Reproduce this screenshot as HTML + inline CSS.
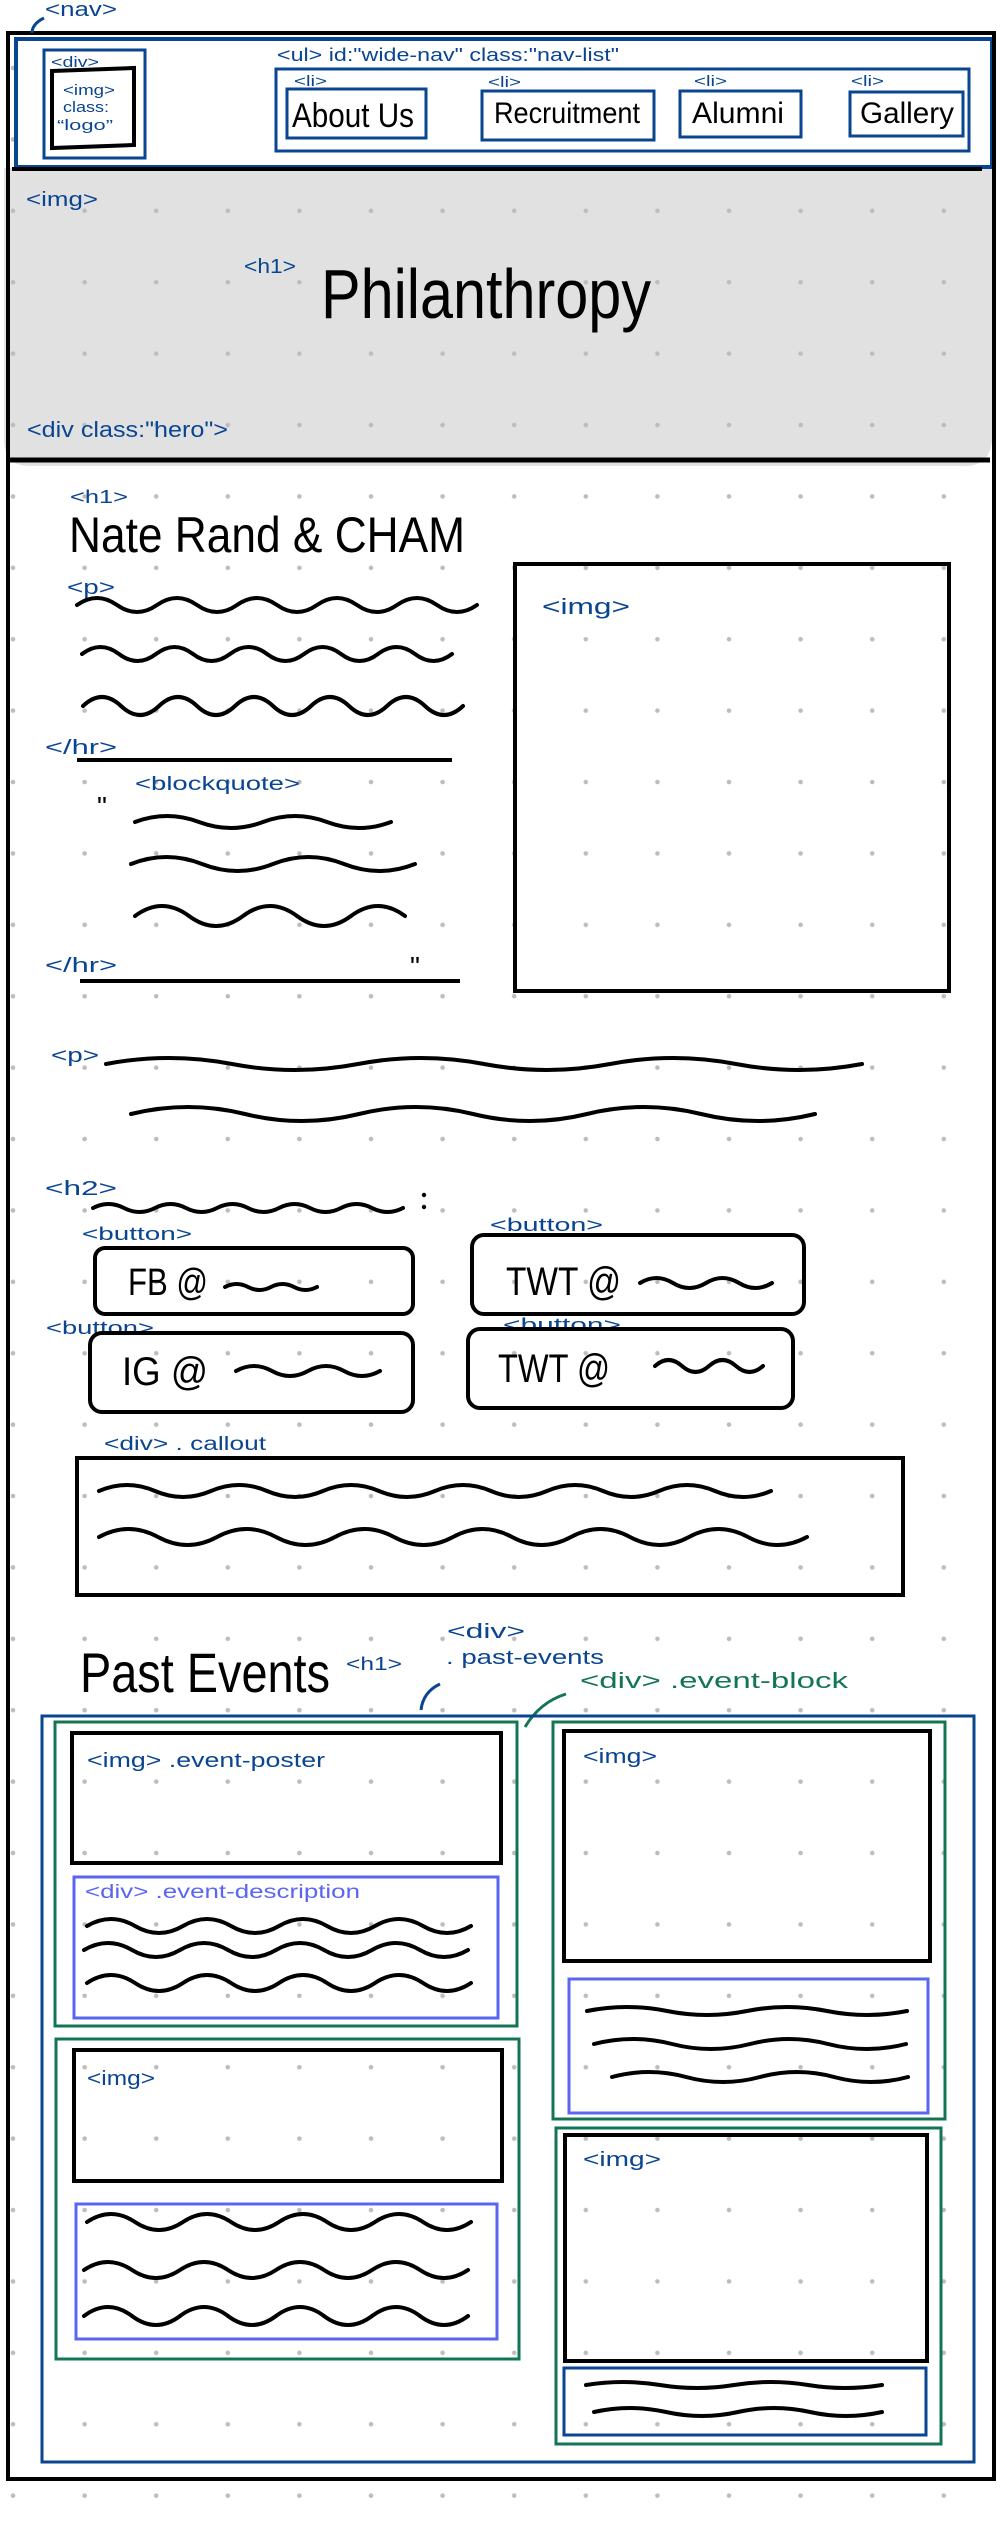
<!DOCTYPE html>
<html><head><meta charset="utf-8"><style>
html,body{margin:0;padding:0;background:#fff;}
svg{display:block;}
.b{fill:#0a4592;font-family:"Liberation Sans Narrow","Liberation Sans",sans-serif;}
.g{fill:#137556;font-family:"Liberation Sans Narrow","Liberation Sans",sans-serif;}
.pu{fill:#5a66f2;font-family:"Liberation Sans Narrow","Liberation Sans",sans-serif;}
.k{fill:#000;font-family:"Liberation Sans Narrow","Liberation Sans",sans-serif;}
.sq{fill:none;stroke:#000;stroke-width:4;stroke-linecap:round;stroke-linejoin:round;}
</style></head><body>
<svg width="1000" height="2542" viewBox="0 0 1000 2542" xmlns="http://www.w3.org/2000/svg">
<defs>
<pattern id="dots" x="13" y="68" width="71.6" height="71.4" patternUnits="userSpaceOnUse">
<circle cx="0.01" cy="0.01" r="2.3" fill="#bdbdbd"/>
<circle cx="71.6" cy="0.01" r="2.3" fill="#bdbdbd"/>
<circle cx="0.01" cy="71.4" r="2.3" fill="#bdbdbd"/>
<circle cx="71.6" cy="71.4" r="2.3" fill="#bdbdbd"/>
</pattern>
</defs>
<rect x="0" y="0" width="1000" height="2542" fill="#fff"/>
<!-- hero grey -->
<path d="M4 168 L992 168 L992 440 Q990 468 960 466 L30 466 Q4 466 4 440 Z" fill="#e1e1e1"/>
<rect x="0" y="0" width="1000" height="2542" fill="url(#dots)"/>
<!-- nav box white -->
<rect x="16" y="39" width="976" height="128" fill="#fff" stroke="#0a4592" stroke-width="4"/>
<!-- main frame -->
<rect x="8" y="33" width="986" height="2446" fill="none" stroke="#000" stroke-width="4"/>
<line x1="12" y1="169" x2="982" y2="169" stroke="#000" stroke-width="4"/>
<line x1="10" y1="460" x2="990" y2="460" stroke="#000" stroke-width="5"/>
<!-- nav label -->
<text class="b" x="45" y="16" font-size="20" textLength="72" lengthAdjust="spacingAndGlyphs">&lt;nav&gt;</text>
<path d="M32 33 Q32 24 44 18" fill="none" stroke="#0a4592" stroke-width="3"/>
<!-- logo -->
<rect x="44" y="50" width="101" height="108" fill="none" stroke="#0a4592" stroke-width="3"/>
<text class="b" x="51" y="67" font-size="15" textLength="48" lengthAdjust="spacingAndGlyphs">&lt;div&gt;</text>
<path d="M52 71 L134 68 L134 145 L52 148 Z" fill="none" stroke="#000" stroke-width="4"/>
<text class="b" x="63" y="95" font-size="15" textLength="52" lengthAdjust="spacingAndGlyphs">&lt;img&gt;</text>
<text class="b" x="63" y="112" font-size="15" textLength="46" lengthAdjust="spacingAndGlyphs">class:</text>
<text class="b" x="57" y="130" font-size="15" textLength="56" lengthAdjust="spacingAndGlyphs">“logo”</text>
<!-- ul -->
<text class="b" x="277" y="61" font-size="18" textLength="342" lengthAdjust="spacingAndGlyphs">&lt;ul&gt; id:"wide-nav" class:"nav-list"</text>
<rect x="276" y="69" width="693" height="82" fill="none" stroke="#0a4592" stroke-width="3"/>
<text class="b" x="294" y="86" font-size="15" textLength="33" lengthAdjust="spacingAndGlyphs">&lt;li&gt;</text>
<text class="b" x="488" y="87" font-size="15" textLength="33" lengthAdjust="spacingAndGlyphs">&lt;li&gt;</text>
<text class="b" x="694" y="86" font-size="15" textLength="33" lengthAdjust="spacingAndGlyphs">&lt;li&gt;</text>
<text class="b" x="851" y="86" font-size="15" textLength="33" lengthAdjust="spacingAndGlyphs">&lt;li&gt;</text>
<rect x="287" y="89" width="139" height="49" fill="#fff" stroke="#0a4592" stroke-width="3"/>
<rect x="482" y="91" width="172" height="49" fill="#fff" stroke="#0a4592" stroke-width="3"/>
<rect x="680" y="91" width="121" height="46" fill="#fff" stroke="#0a4592" stroke-width="3"/>
<rect x="850" y="92" width="113" height="44" fill="#fff" stroke="#0a4592" stroke-width="3"/>
<text class="k" x="292" y="127" font-size="34" textLength="122" lengthAdjust="spacingAndGlyphs">About Us</text>
<text class="k" x="494" y="123" font-size="30" textLength="146" lengthAdjust="spacingAndGlyphs">Recruitment</text>
<text class="k" x="692" y="123" font-size="30" textLength="92" lengthAdjust="spacingAndGlyphs">Alumni</text>
<text class="k" x="860" y="123" font-size="30" textLength="94" lengthAdjust="spacingAndGlyphs">Gallery</text>
<!-- hero -->
<text class="b" x="26" y="206" font-size="20" textLength="72" lengthAdjust="spacingAndGlyphs">&lt;img&gt;</text>
<text class="b" x="244" y="273" font-size="20" textLength="52" lengthAdjust="spacingAndGlyphs">&lt;h1&gt;</text>
<text class="k" x="321" y="318" font-size="70" textLength="330" lengthAdjust="spacingAndGlyphs">Philanthropy</text>
<text class="b" x="27" y="437" font-size="22" textLength="201" lengthAdjust="spacingAndGlyphs">&lt;div class:"hero"&gt;</text>
<!-- section 1 -->
<text class="b" x="70" y="503" font-size="18" textLength="58" lengthAdjust="spacingAndGlyphs">&lt;h1&gt;</text>
<text class="k" x="69" y="552" font-size="50" textLength="396" lengthAdjust="spacingAndGlyphs">Nate Rand &amp; CHAM</text>
<rect x="515" y="564" width="434" height="427" fill="none" stroke="#000" stroke-width="4"/>
<text class="b" x="542" y="614" font-size="22" textLength="88" lengthAdjust="spacingAndGlyphs">&lt;img&gt;</text>
<text class="b" x="67" y="594" font-size="20" textLength="48" lengthAdjust="spacingAndGlyphs">&lt;p&gt;</text>
<path class="sq" d="M77 605 q20 -14 40 0 t40 0 t40 0 t40 0 t40 0 t40 0 t40 0 t40 0 t40 0 t40 0"/>
<path class="sq" d="M82 654 q18.5 -14 37 0 t37 0 t37 0 t37 0 t37 0 t37 0 t37 0 t37 0 t37 0 t37 0"/>
<path class="sq" d="M83 706 q19 -18 38 0 t38 0 t38 0 t38 0 t38 0 t38 0 t38 0 t38 0 t38 0 t38 0"/>
<text class="b" x="45" y="754" font-size="20" textLength="72" lengthAdjust="spacingAndGlyphs">&lt;/hr&gt;</text>
<line x1="77" y1="760" x2="452" y2="760" stroke="#000" stroke-width="4"/>
<text class="b" x="135" y="790" font-size="19" textLength="165" lengthAdjust="spacingAndGlyphs">&lt;blockquote&gt;</text>
<text class="k" x="97" y="816" font-size="28">"</text>
<path class="sq" d="M135 822 q32 -12 64 0 t64 0 t64 0 t64 0"/>
<path class="sq" d="M131 864 q35.5 -14 71 0 t71 0 t71 0 t71 0"/>
<path class="sq" d="M135 916 q27 -20 54 0 t54 0 t54 0 t54 0 t54 0"/>
<text class="b" x="45" y="972" font-size="20" textLength="72" lengthAdjust="spacingAndGlyphs">&lt;/hr&gt;</text>
<text class="k" x="410" y="976" font-size="28">"</text>
<line x1="80" y1="981" x2="460" y2="981" stroke="#000" stroke-width="4"/>
<!-- p2 -->
<text class="b" x="51" y="1062" font-size="20" textLength="48" lengthAdjust="spacingAndGlyphs">&lt;p&gt;</text>
<path class="sq" d="M106 1064 q63 -12 126 0 t126 0 t126 0 t126 0 t126 0 t126 0"/>
<path class="sq" d="M131 1114 q57 -14 114 0 t114 0 t114 0 t114 0 t114 0 t114 0"/>
<!-- h2 and buttons -->
<text class="b" x="45" y="1195" font-size="20" textLength="72" lengthAdjust="spacingAndGlyphs">&lt;h2&gt;</text>
<path class="sq" d="M93 1208 q15.5 -8 31 0 t31 0 t31 0 t31 0 t31 0 t31 0 t31 0 t31 0 t31 0 t31 0"/>
<circle cx="424" cy="1195" r="2.2"/><circle cx="424" cy="1207" r="2.2"/>
<text class="b" x="82" y="1240" font-size="18" textLength="110" lengthAdjust="spacingAndGlyphs">&lt;button&gt;</text>
<text class="b" x="490" y="1231" font-size="18" textLength="113" lengthAdjust="spacingAndGlyphs">&lt;button&gt;</text>
<text class="b" x="46" y="1334" font-size="18" textLength="108" lengthAdjust="spacingAndGlyphs">&lt;button&gt;</text>
<text class="b" x="503" y="1331" font-size="18" textLength="118" lengthAdjust="spacingAndGlyphs">&lt;button&gt;</text>
<rect x="95" y="1248" width="318" height="66" rx="10" fill="none" stroke="#000" stroke-width="4"/>
<rect x="472" y="1235" width="332" height="79" rx="12" fill="none" stroke="#000" stroke-width="4"/>
<rect x="90" y="1333" width="323" height="79" rx="12" fill="none" stroke="#000" stroke-width="4"/>
<rect x="468" y="1329" width="325" height="79" rx="12" fill="none" stroke="#000" stroke-width="4"/>
<text class="k" x="128" y="1295" font-size="38" textLength="80" lengthAdjust="spacingAndGlyphs">FB @</text>
<path class="sq" d="M225 1287 q11.5 -6 23 0 t23 0 t23 0 t23 0"/>
<text class="k" x="506" y="1295" font-size="40" textLength="115" lengthAdjust="spacingAndGlyphs">TWT @</text>
<path class="sq" d="M640 1283 q16.5 -10 33 0 t33 0 t33 0 t33 0"/>
<text class="k" x="122" y="1385" font-size="40" textLength="86" lengthAdjust="spacingAndGlyphs">IG @</text>
<path class="sq" d="M236 1371 q18 -10 36 0 t36 0 t36 0 t36 0"/>
<text class="k" x="498" y="1382" font-size="40" textLength="112" lengthAdjust="spacingAndGlyphs">TWT @</text>
<path class="sq" d="M655 1366 q13.5 -12 27 0 t27 0 t27 0 t27 0"/>
<!-- callout -->
<text class="b" x="104" y="1450" font-size="19" textLength="162" lengthAdjust="spacingAndGlyphs">&lt;div&gt; . callout</text>
<rect x="77" y="1458" width="826" height="137" fill="none" stroke="#000" stroke-width="4"/>
<path class="sq" d="M99 1491 q28 -12 56 0 t56 0 t56 0 t56 0 t56 0 t56 0 t56 0 t56 0 t56 0 t56 0 t56 0 t56 0"/>
<path class="sq" d="M99 1537 q29.5 -16 59 0 t59 0 t59 0 t59 0 t59 0 t59 0 t59 0 t59 0 t59 0 t59 0 t59 0 t59 0"/>
<!-- past events -->
<text class="k" x="80" y="1692" font-size="56" textLength="250" lengthAdjust="spacingAndGlyphs">Past Events</text>
<text class="b" x="346" y="1670" font-size="18" textLength="56" lengthAdjust="spacingAndGlyphs">&lt;h1&gt;</text>
<text class="b" x="447" y="1638" font-size="20" textLength="78" lengthAdjust="spacingAndGlyphs">&lt;div&gt;</text>
<text class="b" x="446" y="1664" font-size="20" textLength="158" lengthAdjust="spacingAndGlyphs">. past-events</text>
<path d="M421 1710 Q423 1692 440 1684" fill="none" stroke="#0a4592" stroke-width="3"/>
<text class="g" x="580" y="1688" font-size="22" textLength="268" lengthAdjust="spacingAndGlyphs">&lt;div&gt; .event-block</text>
<path d="M525 1727 Q540 1702 566 1694" fill="none" stroke="#137556" stroke-width="3"/>
<rect x="42" y="1716" width="932" height="746" fill="none" stroke="#0a4592" stroke-width="3"/>
<!-- block1 -->
<rect x="55" y="1722" width="462" height="304" fill="none" stroke="#137556" stroke-width="3"/>
<rect x="72" y="1733" width="429" height="130" fill="none" stroke="#000" stroke-width="4"/>
<text class="b" x="87" y="1767" font-size="20" textLength="238" lengthAdjust="spacingAndGlyphs">&lt;img&gt; .event-poster</text>
<rect x="74" y="1877" width="424" height="141" fill="none" stroke="#5a66f2" stroke-width="3"/>
<text class="pu" x="85" y="1898" font-size="19" textLength="275" lengthAdjust="spacingAndGlyphs">&lt;div&gt; .event-description</text>
<path class="sq" d="M87 1926 q24 -14 48 0 t48 0 t48 0 t48 0 t48 0 t48 0 t48 0 t48 0"/>
<path class="sq" d="M84 1950 q24 -14 48 0 t48 0 t48 0 t48 0 t48 0 t48 0 t48 0 t48 0"/>
<path class="sq" d="M87 1983 q24 -16 48 0 t48 0 t48 0 t48 0 t48 0 t48 0 t48 0 t48 0"/>
<!-- block2 -->
<rect x="56" y="2039" width="463" height="320" fill="none" stroke="#137556" stroke-width="3"/>
<rect x="74" y="2050" width="428" height="131" fill="none" stroke="#000" stroke-width="4"/>
<text class="b" x="87" y="2085" font-size="20" textLength="68" lengthAdjust="spacingAndGlyphs">&lt;img&gt;</text>
<rect x="76" y="2204" width="421" height="135" fill="none" stroke="#5a66f2" stroke-width="3"/>
<path class="sq" d="M87 2222 q24 -16 48 0 t48 0 t48 0 t48 0 t48 0 t48 0 t48 0 t48 0"/>
<path class="sq" d="M84 2270 q24 -16 48 0 t48 0 t48 0 t48 0 t48 0 t48 0 t48 0 t48 0"/>
<path class="sq" d="M84 2316 q24 -18 48 0 t48 0 t48 0 t48 0 t48 0 t48 0 t48 0 t48 0"/>
<!-- block3 -->
<rect x="553" y="1722" width="392" height="397" fill="none" stroke="#137556" stroke-width="3"/>
<rect x="564" y="1731" width="366" height="230" fill="none" stroke="#000" stroke-width="4"/>
<text class="b" x="583" y="1763" font-size="20" textLength="74" lengthAdjust="spacingAndGlyphs">&lt;img&gt;</text>
<rect x="569" y="1979" width="359" height="134" fill="none" stroke="#5a66f2" stroke-width="3"/>
<path class="sq" d="M587 2011 q40 -8 80 0 t80 0 t80 0 t80 0"/>
<path class="sq" d="M594 2044 q39 -10 78 0 t78 0 t78 0 t78 0"/>
<path class="sq" d="M612 2077 q37 -10 74 0 t74 0 t74 0 t74 0"/>
<!-- block4 -->
<rect x="556" y="2128" width="385" height="316" fill="none" stroke="#137556" stroke-width="3"/>
<rect x="565" y="2135" width="362" height="226" fill="none" stroke="#000" stroke-width="4"/>
<text class="b" x="583" y="2166" font-size="20" textLength="78" lengthAdjust="spacingAndGlyphs">&lt;img&gt;</text>
<rect x="564" y="2368" width="362" height="67" fill="none" stroke="#0a4592" stroke-width="3"/>
<path class="sq" d="M586 2385 q37 -6 74 0 t74 0 t74 0 t74 0"/>
<path class="sq" d="M594 2412 q36 -8 72 0 t72 0 t72 0 t72 0"/>
</svg>
</body></html>
